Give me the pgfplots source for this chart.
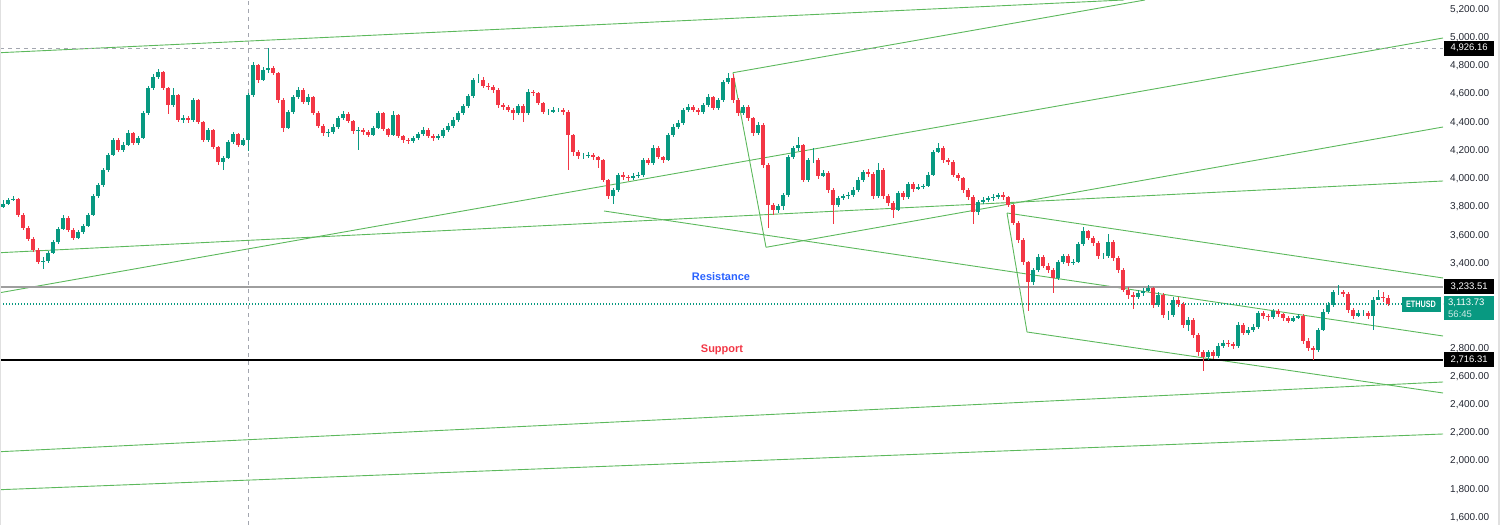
\documentclass[border=0pt]{standalone}
\usepackage{fontspec}
\setmainfont{Liberation Sans}
\usepackage{graphicx}
\usepackage{pgfplots}
\usepackage{pgfplotstable}
\pgfplotsset{compat=1.18}

\definecolor{tvup}{HTML}{089981}
\definecolor{tvdown}{HTML}{F23645}
\definecolor{trend}{HTML}{5CB85C}
\definecolor{scaletext}{HTML}{232732}
\definecolor{crossgray}{HTML}{A3A6AF}
\definecolor{resgray}{HTML}{9E9E9E}
\definecolor{resblue}{HTML}{2962FF}

% ETHUSD candles: high, low, close (open = previous close)
\pgfplotstableread{
h l c
3850 3790 3822
3865 3815 3850
3880 3840 3857
3865 3730 3744
3755 3640 3652
3665 3560 3574
3590 3480 3496
3510 3395 3411
3445 3360 3420
3490 3405 3475
3565 3465 3552
3660 3540 3645
3740 3635 3722
3735 3620 3637
3650 3565 3581
3640 3570 3623
3680 3610 3666
3760 3655 3744
3890 3735 3878
3970 3865 3956
4080 3945 4063
4185 4050 4169
4290 4160 4275
4290 4190 4204
4260 4190 4240
4345 4230 4325
4335 4240 4254
4305 4240 4289
4480 4280 4466
4660 4455 4644
4740 4630 4721
4780 4710 4757
4765 4630 4644
4650 4460 4523
4640 4510 4594
4600 4400 4417
4450 4395 4431
4445 4395 4417
4575 4405 4558
4565 4390 4403
4410 4260 4275
4360 4260 4346
4355 4210 4226
4235 4100 4119
4165 4065 4148
4275 4140 4261
4335 4250 4318
4325 4225 4240
4290 4230 4275
4610 4200 4594
4830 4580 4806
4815 4680 4700
4790 4690 4771
4926.16 4750 4785
4800 4735 4750
4760 4540 4558
4570 4330 4360
4490 4350 4474
4595 4460 4580
4650 4565 4629
4640 4530 4544
4600 4520 4580
4590 4450 4466
4480 4360 4374
4390 4300 4325
4350 4295 4332
4385 4315 4367
4445 4355 4431
4480 4420 4459
4470 4395 4410
4420 4320 4339
4365 4205 4346
4360 4310 4332
4345 4295 4311
4375 4300 4360
4480 4350 4466
4470 4340 4353
4360 4295 4311
4480 4300 4452
4460 4290 4303
4310 4255 4275
4290 4245 4268
4305 4255 4289
4335 4275 4318
4370 4305 4346
4360 4290 4303
4315 4270 4289
4320 4275 4303
4360 4290 4346
4395 4335 4374
4435 4360 4417
4480 4400 4466
4530 4450 4516
4600 4500 4587
4715 4575 4700
4745 4680 4700
4720 4640 4658
4680 4630 4651
4665 4610 4629
4640 4505 4523
4540 4490 4509
4525 4470 4488
4500 4420 4466
4530 4450 4516
4530 4400 4466
4635 4455 4615
4630 4585 4608
4615 4520 4537
4545 4460 4474
4495 4455 4474
4510 4465 4488
4505 4470 4488
4500 4455 4474
4490 4065 4311
4320 4160 4190
4205 4140 4162
4185 4140 4162
4190 4150 4169
4185 4130 4155
4165 4080 4133
4140 3975 3992
4000 3860 3878
3935 3820 3921
4040 3905 4027
4045 3995 4013
4030 3985 4006
4040 3990 4020
4045 4005 4027
4150 4015 4133
4150 4095 4112
4240 4100 4218
4230 4140 4155
4165 4110 4133
4325 4125 4311
4385 4295 4367
4415 4350 4396
4505 4380 4488
4530 4470 4509
4520 4470 4488
4500 4455 4474
4540 4460 4523
4600 4510 4580
4590 4485 4502
4575 4490 4558
4700 4545 4686
4752 4670 4714
4740 4540 4558
4575 4445 4466
4525 4455 4509
4520 4410 4431
4440 4305 4325
4400 4310 4381
4395 4080 4098
4110 3650 3815
3830 3740 3779
3825 3760 3808
3900 3780 3885
4170 3870 4155
4235 4140 4218
4295 4200 4240
4250 3975 3992
4150 3980 4133
4215 4110 4133
4145 4000 4020
4060 4010 4041
4055 3900 3921
3935 3680 3815
3880 3800 3864
3895 3850 3878
3905 3860 3885
3940 3870 3921
4010 3905 3992
4065 3975 4048
4070 4015 4034
4045 3860 3878
4115 3865 4063
4075 3860 3878
3895 3810 3829
3840 3720 3779
3915 3770 3899
3915 3850 3871
3980 3860 3963
3975 3910 3928
3960 3920 3942
3965 3925 3949
4045 3940 4027
4205 4020 4190
4255 4180 4218
4230 4115 4133
4150 4100 4119
4130 4010 4027
4040 3985 4006
4015 3900 3921
3935 3850 3871
3885 3680 3765
3850 3745 3836
3870 3820 3850
3880 3835 3864
3890 3845 3871
3900 3855 3885
3910 3850 3871
3880 3800 3815
3825 3670 3687
3700 3545 3567
3580 3390 3411
3420 3060 3269
3370 3250 3354
3465 3340 3446
3460 3365 3382
3400 3330 3354
3370 3190 3297
3425 3280 3411
3470 3395 3453
3465 3385 3404
3430 3390 3411
3555 3400 3538
3660 3525 3630
3640 3565 3581
3595 3525 3545
3560 3435 3453
3475 3430 3453
3610 3440 3552
3565 3420 3439
3450 3335 3354
3365 3195 3212
3230 3150 3177
3195 3075 3163
3210 3145 3191
3225 3170 3205
3250 3195 3226
3235 3085 3106
3195 3090 3177
3190 3015 3035
3060 3000 3035
3160 3020 3142
3160 3095 3113
3125 2945 2965
3020 2920 3000
3015 2875 2894
2905 2745 2773
2790 2635 2738
2790 2715 2773
2790 2725 2745
2835 2730 2816
2860 2800 2837
2860 2810 2830
2845 2795 2816
2985 2800 2965
2975 2890 2908
2950 2895 2929
2970 2915 2950
3065 2935 3049
3060 3005 3028
3045 2995 3021
3080 3010 3064
3080 3020 3042
3050 2995 3014
3025 2975 2993
3030 2985 3014
3045 3005 3028
3040 2830 2851
2870 2780 2801
2815 2718 2787
2945 2770 2929
3075 2920 3057
3125 3040 3106
3215 3095 3198
3245 3175 3198
3215 3160 3184
3195 3050 3071
3085 3005 3028
3070 3020 3049
3070 3025 3049
3060 3010 3028
3160 2930 3142
3215 3140 3163
3200 3130 3156
3175 3100 3113.73
}\eth

\pgfplotstablecreatecol[
  create col/assign first/.code={\pgfkeyssetvalue{/pgfplots/table/create col/next content}{3800}},
  create col/assign/.code={\getprevrow{c}{\prevc}\pgfkeyslet{/pgfplots/table/create col/next content}\prevc},
]{o}{\eth}

\pgfplotsset{
  candle/.style 2 args={draw=none, mark=none, forget plot,
    error bars/y dir=both, error bars/y explicit, error bars/error mark=none,
    error bars/error bar style={line width=#1, draw=#2, line cap=butt}},
  isup/.style={restrict expr to domain={\thisrow{c}-\thisrow{o}}{0:100000}},
  isdown/.style={restrict expr to domain={\thisrow{c}-\thisrow{o}}{-100000:-0.001}},
  trendline/.style={color=trend, line width=0.9pt},
}

\newcommand\lblfont{\fontsize{9.5}{12}\selectfont}

\begin{document}
\begin{tikzpicture}
\useasboundingbox (0,0) rectangle (1500pt,525pt);
\begin{axis}[
  at={(0pt,0pt)}, anchor=south west,
  scale only axis, width=1443pt, height=525pt,
  xmin=0, xmax=1443, ymin=1547.3, ymax=5266.8,
  clip=false,
  axis line style={draw=none},
  tick style={draw=none},
  xtick=\empty,
  ytick={1600,1800,2000,2200,2400,2600,2800,3400,3600,3800,4000,4200,4400,4600,4800,5000,5200},
  yticklabel pos=right,
  y tick label style={font=\fontsize{10}{12}\selectfont, text=scaletext,
    anchor=west, inner sep=0pt, xshift=7pt},
  /pgf/number format/fixed,
  /pgf/number format/fixed zerofill,
  /pgf/number format/precision=2,
  /pgf/number format/1000 sep={,},
  /pgf/number format/assume math mode=true,
]

% trend lines
\addplot[trendline] coordinates {(0,4893.4) (1124,5266.8)};
\addplot[trendline] coordinates {(733,4751.7) (1145,5266.8)};
\addplot[trendline] coordinates {(733,4751.7) (766,3514.8)};
\addplot[trendline] coordinates {(766,3514.8) (1443,4367)};
\addplot[trendline] coordinates {(0,3193.1) (1443,4997.6)};
\addplot[trendline] coordinates {(0,3476.5) (1443,3984.5)};
\addplot[trendline] coordinates {(604,3771.9) (1443,2886.3)};
\addplot[trendline] coordinates {(1007,3757.8) (1443,3297.3)};
\addplot[trendline] coordinates {(1007,3757.8) (1027,2914.7)};
\addplot[trendline] coordinates {(1027,2914.7) (1443,2482.5)};
\addplot[trendline] coordinates {(0,2066.6) (1443,2560.4)};
\addplot[trendline] coordinates {(0,1797.4) (1443,2192)};

% crosshair
\addplot[color=crossgray, line width=1pt, dash pattern=on 4pt off 4pt] coordinates {(248,1547.3) (248,5266.8)};
\addplot[color=crossgray, line width=1pt, dash pattern=on 4pt off 4pt] coordinates {(0,4926.16) (1443,4926.16)};

% resistance / support / last price
\addplot[color=resgray, line width=2pt] coordinates {(0,3233.51) (1443,3233.51)};
\addplot[color=black, line width=1.5pt] coordinates {(0,2716.31) (1443,2716.31)};
\addplot[color=tvup, line width=1.3pt, dash pattern=on 1.3pt off 1.7pt] coordinates {(0,3113.73) (1443,3113.73)};

% wicks
\addplot[isup, candle={1pt}{tvup}]
  table[x expr=3+5*\coordindex, y=c,
    y error plus expr=\thisrow{h}-\thisrow{c},
    y error minus expr=\thisrow{c}-\thisrow{l}] {\eth};
\addplot[isdown, candle={1pt}{tvdown}]
  table[x expr=3+5*\coordindex, y=c,
    y error plus expr=\thisrow{h}-\thisrow{c},
    y error minus expr=\thisrow{c}-\thisrow{l}] {\eth};
% bodies
\addplot[isup, candle={3.6pt}{tvup}]
  table[x expr=3+5*\coordindex, y=c,
    y error plus expr=0,
    y error minus expr=\thisrow{c}-\thisrow{o}] {\eth};
\addplot[isdown, candle={3.6pt}{tvdown}]
  table[x expr=3+5*\coordindex, y=c,
    y error plus expr=\thisrow{o}-\thisrow{c},
    y error minus expr=0] {\eth};

% drawing labels
\node[text=resblue, font=\fontsize{11}{13}\bfseries] at (axis cs:721,3306.5) {Resistance};
\node[text=tvdown, font=\fontsize{11}{13}\bfseries] at (axis cs:722,2792) {Support};

% price scale labels
\node[fill=black, text=white, font=\lblfont, anchor=west, inner sep=0pt,
  minimum width=50pt, minimum height=15pt] at (axis cs:1444,4926.16) {4,926.16};
\node[fill=black, text=white, font=\lblfont, anchor=west, inner sep=0pt,
  minimum width=50pt, minimum height=15pt] at (axis cs:1444,3233.51) {3,233.51};
\node[fill=black, text=white, font=\lblfont, anchor=west, inner sep=0pt,
  minimum width=50pt, minimum height=15pt] at (axis cs:1444,2716.31) {2,716.31};
\node[fill=tvup, text=white, font=\lblfont, anchor=north west, inner xsep=4pt, inner ysep=2.5pt,
  text width=42pt, align=left] at (axis cs:1444,3172) {3,113.73\\{\color{white!80!tvup}56:45}};
\node[fill=tvup, text=white, font=\fontsize{9.3}{11}\bfseries, inner sep=0pt,
  minimum width=39pt, minimum height=15pt] at (axis cs:1421,3109.5) {\scalebox{0.78}[1]{ETHUSD}};
\end{axis}
\draw[black!12, line width=1pt] (0.5pt,0) -- (0.5pt,525pt);
\draw[black!12, line width=2pt] (1499pt,0) -- (1499pt,525pt);
\end{tikzpicture}
\end{document}
